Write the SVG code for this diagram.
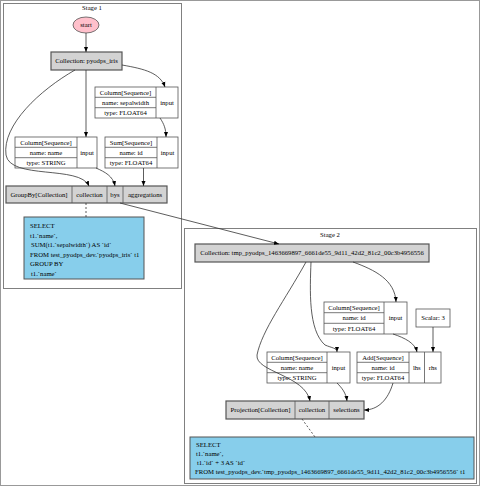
<svg xmlns="http://www.w3.org/2000/svg" width="480" height="486" viewBox="0 0 480 486">
<defs>
<style>
text{font-family:"Liberation Serif","Times New Roman",serif;font-size:6.7px;fill:#000;text-anchor:middle}
.l{text-anchor:start}
.cl{fill:#fff;stroke:#808080;stroke-width:1}
.rec{fill:#fff;stroke:#555;stroke-width:0.8}
.ln{stroke:#555;stroke-width:0.8;fill:none}
.gray{fill:#d3d3d3;stroke:#555;stroke-width:1.2}
.sql{fill:#87ceeb;stroke:#555;stroke-width:1}
.e{fill:none;stroke:#333;stroke-width:0.8;marker-end:url(#a)}
.d{fill:none;stroke:#333;stroke-width:0.8;stroke-dasharray:2,2}
</style>
<marker id="a" viewBox="0 0 10 10" refX="10" refY="5" markerWidth="5" markerHeight="5" orient="auto" markerUnits="userSpaceOnUse"><path d="M0,1 L10,5 L0,9 z" fill="#000"/></marker>
</defs>
<rect x="0.5" y="0.5" width="479" height="485" fill="#fff" stroke="#999"/>
<g id="stage1">
<rect class="cl" x="3.5" y="3.5" width="178" height="285"/>
<text x="92" y="10">Stage 1</text>
</g>
<g id="stage2">
<rect class="cl" x="184.5" y="228.5" width="292" height="255"/>
<text x="330" y="237">Stage 2</text>
</g>
<g id="start">
<ellipse cx="86" cy="25" rx="13" ry="8" fill="#ffc0cb" stroke="#555" stroke-width="0.8"/>
<text x="86" y="27.3">start</text>
</g>
<g id="coll1">
<rect class="gray" x="51" y="52" width="71" height="18"/>
<text x="86.5" y="63.3">Collection: pyodps_iris</text>
</g>
<g id="colsepal">
<rect class="rec" x="95" y="87" width="83" height="31"/>
<path class="ln" d="M156,87V118M95,97.3H156M95,107.7H156"/>
<text x="125.5" y="94.6">Column[Sequence]</text>
<text x="125.5" y="104.8">name: sepalwidth</text>
<text x="125.5" y="115.2">type: FLOAT64</text>
<text x="167" y="104.8">input</text>
</g>
<g id="colname1">
<rect class="rec" x="15" y="137" width="82" height="31"/>
<path class="ln" d="M77,137V168M15,147.3H77M15,157.7H77"/>
<text x="46" y="144.6">Column[Sequence]</text>
<text x="46" y="154.8">name: name</text>
<text x="46" y="165.2">type: STRING</text>
<text x="87" y="154.8">input</text>
</g>
<g id="sum">
<rect class="rec" x="105" y="137" width="73" height="31"/>
<path class="ln" d="M157,137V168M105,147.3H157M105,157.7H157"/>
<text x="131" y="144.6">Sum[Sequence]</text>
<text x="131" y="154.8">name: id</text>
<text x="131" y="165.2">type: FLOAT64</text>
<text x="167.5" y="154.8">input</text>
</g>
<g id="groupby">
<rect class="gray" x="6" y="186" width="161" height="17"/>
<path class="ln" d="M72,186V203M107,186V203M123,186V203"/>
<text x="39" y="196.8">GroupBy[Collection]</text>
<text x="89.5" y="196.8">collection</text>
<text x="115" y="196.8">bys</text>
<text x="145" y="196.8">aggregations</text>
</g>
<g id="sql1">
<rect class="sql" x="24" y="217" width="120" height="62"/>
<text class="l" x="30" y="228">SELECT</text>
<text class="l" x="30" y="237.5">  t1.`name`,</text>
<text class="l" x="31" y="247">SUM(t1.`sepalwidth`) AS `id`</text>
<text class="l" x="30" y="256.5">FROM test_pyodps_dev.`pyodps_iris` t1</text>
<text class="l" x="30" y="266">GROUP BY</text>
<text class="l" x="31" y="275.5">t1.`name`</text>
</g>
<g id="coll2">
<rect class="gray" x="195" y="244" width="234" height="18"/>
<text x="312" y="255.3">Collection: tmp_pyodps_1463669897_6661de55_9d11_42d2_81c2_00c3b4956556</text>
</g>
<g id="colid">
<rect class="rec" x="324" y="302" width="83" height="32"/>
<path class="ln" d="M384,302V334M324,312.7H384M324,323.3H384"/>
<text x="354" y="309.8">Column[Sequence]</text>
<text x="354" y="320.3">name: id</text>
<text x="354" y="330.9">type: FLOAT64</text>
<text x="395.5" y="320.3">input</text>
</g>
<g id="scalar">
<rect class="rec" x="416" y="309" width="34" height="18"/>
<text x="433" y="320.3">Scalar: 3</text>
</g>
<g id="colname2">
<rect class="rec" x="267" y="352" width="83" height="31"/>
<path class="ln" d="M327,352V383M267,362.3H327M267,372.7H327"/>
<text x="297" y="359.6">Column[Sequence]</text>
<text x="297" y="369.8">name: name</text>
<text x="297" y="380.2">type: STRING</text>
<text x="338.5" y="369.8">input</text>
</g>
<g id="add">
<rect class="rec" x="357" y="352" width="84" height="31"/>
<path class="ln" d="M409,352V383M424.5,352V383M357,362.3H409M357,372.7H409"/>
<text x="383" y="359.6">Add[Sequence]</text>
<text x="383" y="369.8">name: id</text>
<text x="383" y="380.2">type: FLOAT64</text>
<text x="416.8" y="369.8">lhs</text>
<text x="432.8" y="369.8">rhs</text>
</g>
<g id="projection">
<rect class="gray" x="226" y="401" width="138" height="18"/>
<path class="ln" d="M295,401V419M329,401V419"/>
<text x="260.5" y="412.3">Projection[Collection]</text>
<text x="312" y="412.3">collection</text>
<text x="346.5" y="412.3">selections</text>
</g>
<g id="sql2">
<rect class="sql" x="190" y="437" width="284" height="42"/>
<text class="l" x="196" y="446.5">SELECT</text>
<text class="l" x="196" y="455.5">  t1.`name`,</text>
<text class="l" x="197" y="464.5">t1.`id` + 3 AS `id`</text>
<text class="l" x="195" y="473.5">FROM test_pyodps_dev.`tmp_pyodps_1463669897_6661de55_9d11_42d2_81c2_00c3b4956556` t1</text>
</g>
<g id="connectors">
<path class="e" d="M86,33V52"/>
<path class="e" d="M122,65C145,69 160,73 165,87"/>
<path class="e" d="M86,70V137"/>
<path class="e" d="M75,70C40,90 2,125 6,155C10,180 80,165 89,186"/>
<path class="e" d="M160,118C164,124 166,129 166,137"/>
<path class="e" d="M96,168C105,172 113,176 115,186"/>
<path class="e" d="M143.5,168V186"/>
<path class="e" d="M120,203L279,244"/>
<path class="d" d="M86,203V217"/>
<path class="e" d="M353,262C375,270 395,280 396,302"/>
<path class="e" d="M311,262C310,290 308,330 325,345C332,348 337,348 337,352"/>
<path class="e" d="M306,262C285,300 262,330 257,355C255,372 305,375 310,401"/>
<path class="e" d="M393,334C405,338 415,343 417,352"/>
<path class="e" d="M433,327V352"/>
<path class="e" d="M337,383C342,388 346,393 347,401"/>
<path class="e" d="M393,383C388,400 378,410 364,410"/>
<path class="d" d="M302,419L315,437"/>
</g>
</svg>
